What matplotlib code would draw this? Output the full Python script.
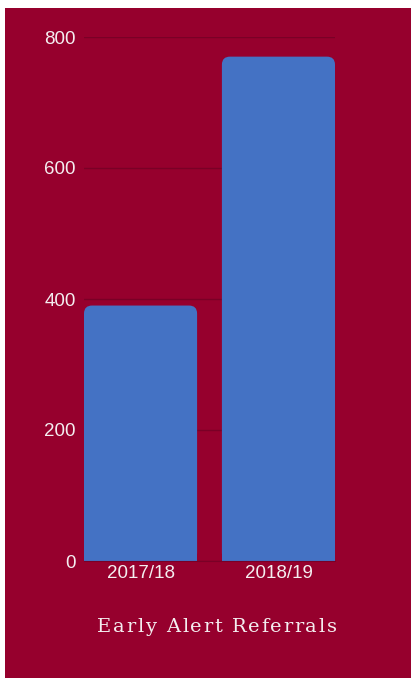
import matplotlib
matplotlib.use("Agg")
import matplotlib.pyplot as plt
from matplotlib.patches import Rectangle, FancyBboxPatch

# datos
categorias = ["2017/18", "2018/19"]
referrals = [390, 770]
y_ticks = [0, 200, 400, 600, 800]
titulo = "Early Alert Referrals"

fondo = "#96002d"
azul = "#4472c4"
texto = "#f4eef0"

W, H = 411, 678
fig = plt.figure(figsize=(W / 100, H / 100), dpi=100)
fig.patch.set_facecolor("white")
# panel carmesi (deja un pequeño borde blanco arriba y a la izquierda)
fig.patches.append(Rectangle((5 / W, 0), 1 - 5 / W, 1 - 8 / H, transform=fig.transFigure,
                             facecolor=fondo, edgecolor="none", zorder=-5))

ax = fig.add_axes([84 / W, (H - 561) / H, (335 - 84) / W, (561 - 37) / H])
ax.set_facecolor("none")
ax.set_zorder(2)
ancho = 0.82
ax.set_xlim(-ancho / 2, 1 + ancho / 2)
ax.set_ylim(0, 800)

barras = ax.bar(range(len(categorias)), referrals, width=ancho, color=azul, zorder=2)

# esquinas superiores redondeadas
fig.canvas.draw()
x_px = ax.transData.transform((1, 0))[0] - ax.transData.transform((0, 0))[0]
y_px = ax.transData.transform((0, 1))[1] - ax.transData.transform((0, 0))[1]
radio = 8 / x_px
aspecto = x_px / y_px
for b in barras:
    b.set_visible(False)
    x0, w, h = b.get_x(), b.get_width(), b.get_height()
    ax.add_patch(FancyBboxPatch((x0, 0), w, h, boxstyle=f"round,pad=0,rounding_size={radio}",
                                mutation_aspect=aspecto, facecolor=azul, edgecolor="none", zorder=2))
    ax.add_patch(Rectangle((x0, 0), w, h / 2, facecolor=azul, edgecolor="none", zorder=2))

ax.set_yticks(y_ticks)
ax.set_xticks(range(len(categorias)))
ax.set_xticklabels(categorias)
ax.grid(axis="y", color="#7a0026", linewidth=1, zorder=1)
ax.set_axisbelow(True)
for s in ["top", "right", "left"]:
    ax.spines[s].set_visible(False)
ax.spines["bottom"].set_color("#7a0026")
ax.tick_params(length=0, colors=texto, labelsize=13.5, labelfontfamily="Liberation Sans")
ax.tick_params(axis="y", pad=6)
ax.tick_params(axis="x", pad=3)

# titulo con espaciado entre letras
r = fig.canvas.get_renderer()
tracking = 1.7
letras = []
for c in titulo:
    t = fig.text(0, 0, c if c != " " else "a", fontsize=14, family="DejaVu Serif", color=texto)
    ancho_c = t.get_window_extent(r).width
    if c == " ":
        ancho_c *= 0.55
    t.remove()
    letras.append((c, ancho_c))
total = sum(a for _, a in letras) + tracking * (len(letras) - 1)
x = 217 - total / 2
for c, a in letras:
    if c != " ":
        fig.text(x / W, 1 - 627 / H, c, ha="left", va="center", color=texto,
                 fontsize=14, family="DejaVu Serif")
    x += a + tracking

fig.savefig("out.png", dpi=100, facecolor=fig.get_facecolor())
